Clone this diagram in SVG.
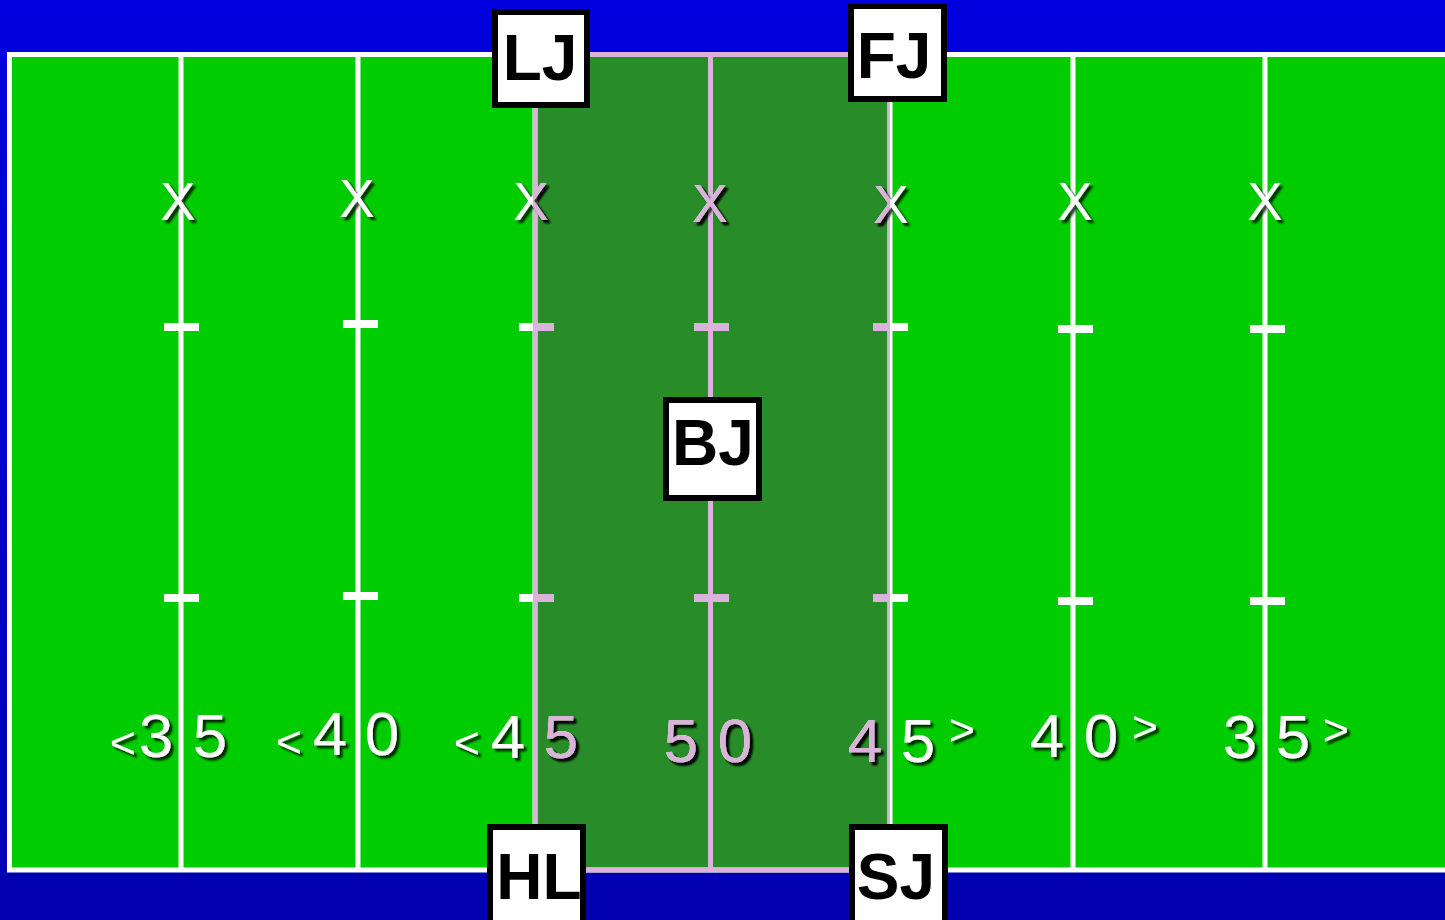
<svg xmlns="http://www.w3.org/2000/svg" xmlns:xlink="http://www.w3.org/1999/xlink" width="1445" height="920" viewBox="0 0 1445 920">
<style>
.ln{stroke:currentColor;stroke-width:5;fill:none}
.hm{fill:currentColor}
.tx{fill:currentColor;font-family:'Liberation Sans',Arial,sans-serif;text-anchor:middle;filter:url(#sh)}
.x{font-size:53px}
.d{font-size:62px}
.a{font-size:45px}
.box rect{fill:#fff;stroke:#000;stroke-width:6}
.box text{font-family:'Liberation Sans',Arial,sans-serif;font-weight:bold;font-size:64px;text-anchor:middle;fill:#000}
</style>
<defs>
<linearGradient id="bg" x1="0" y1="0" x2="0" y2="1">
<stop offset="0" stop-color="#0000DF"/>
<stop offset="1" stop-color="#0000AE"/>
</linearGradient>
<filter id="sh" x="-20%" y="-20%" width="150%" height="150%">
<feDropShadow dx="3" dy="3" stdDeviation="1.2" flood-color="#000" flood-opacity="0.8"/>
</filter>
<clipPath id="mid"><rect x="533" y="0" width="357" height="920"/></clipPath>
<g id="marks">
<rect class="ln" x="9.5" y="54.5" width="1450" height="815.5"/>
<g class="ln">
<line x1="181" y1="57" x2="181" y2="868"/>
<line x1="358" y1="57" x2="358" y2="868"/>
<line x1="535" y1="57" x2="535" y2="868"/>
<line x1="710.5" y1="57" x2="710.5" y2="868"/>
<line x1="890" y1="57" x2="890" y2="868"/>
<line x1="1073" y1="57" x2="1073" y2="868"/>
<line x1="1265" y1="57" x2="1265" y2="868"/>
</g>
<g class="hm">
<rect x="164" y="323" width="35" height="8"/>
<rect x="343" y="320" width="35" height="8"/>
<rect x="519" y="323" width="35" height="8"/>
<rect x="694" y="323" width="35" height="8"/>
<rect x="873" y="323" width="35" height="8"/>
<rect x="1058" y="325" width="35" height="8"/>
<rect x="1250" y="325" width="35" height="8"/>
<rect x="164" y="594" width="35" height="8"/>
<rect x="343" y="592" width="35" height="8"/>
<rect x="519" y="594" width="35" height="8"/>
<rect x="694" y="594" width="35" height="8"/>
<rect x="873" y="594" width="35" height="8"/>
<rect x="1058" y="597" width="35" height="8"/>
<rect x="1250" y="597" width="35" height="8"/>
</g>
<g class="tx x">
<text x="178" y="220">X</text>
<text x="357" y="217">X</text>
<text x="531" y="220">X</text>
<text x="710" y="222">X</text>
<text x="891" y="223">X</text>
<text x="1075" y="220">X</text>
<text x="1265" y="220">X</text>
</g>
<g class="tx d">
<text x="156" y="757">3</text>
<text x="210" y="757">5</text>
<text x="330" y="755">4</text>
<text x="382" y="755">0</text>
<text x="508" y="758">4</text>
<text x="561" y="758">5</text>
<text x="681" y="762">5</text>
<text x="735" y="762">0</text>
<text x="865" y="762">4</text>
<text x="918" y="762">5</text>
<text x="1047" y="757">4</text>
<text x="1101" y="757">0</text>
<text x="1240" y="758">3</text>
<text x="1293" y="758">5</text>
</g>
<g class="tx a">
<text x="123" y="758">&lt;</text>
<text x="289" y="757">&lt;</text>
<text x="467" y="758">&lt;</text>
<text x="962" y="745">&gt;</text>
<text x="1145" y="742">&gt;</text>
<text x="1336" y="745">&gt;</text>
</g>
</g>
</defs>
<rect width="1445" height="920" fill="url(#bg)"/>
<rect x="12" y="57" width="1440" height="811" fill="#00CC00"/>
<rect x="533" y="57" width="357" height="811" fill="#288D28"/>
<g id="field-white" style="color:#fff"><use xlink:href="#marks" href="#marks"/></g>
<g id="field-mid" style="color:#D9B3D9" clip-path="url(#mid)"><use xlink:href="#marks" href="#marks"/></g>
<g id="connectors"></g>
<g id="LJ" class="box"><rect x="495" y="12" width="92" height="93"/><text x="540" y="80">LJ</text></g>
<g id="FJ" class="box"><rect x="851" y="6" width="93" height="93"/><text x="894" y="78">FJ</text></g>
<g id="BJ" class="box"><rect x="666" y="400" width="93" height="98"/><text x="713" y="465">BJ</text></g>
<g id="HL" class="box"><rect x="490" y="827" width="93" height="100"/><text x="539" y="899">HL</text></g>
<g id="SJ" class="box"><rect x="852" y="827" width="93" height="100"/><text x="896" y="899">SJ</text></g>
</svg>
